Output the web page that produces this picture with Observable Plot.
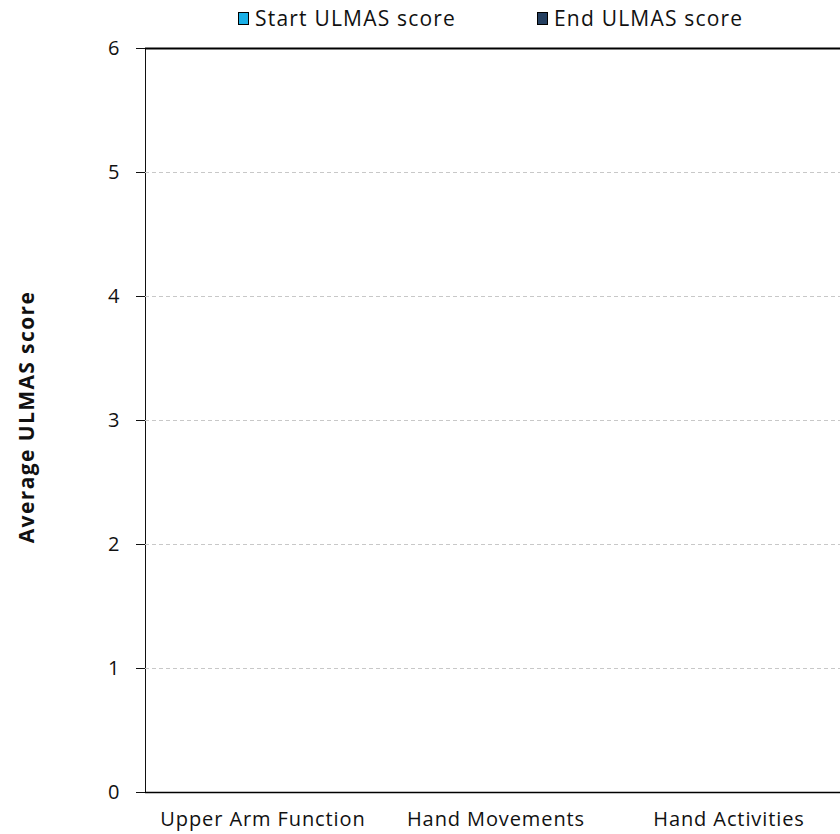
<!DOCTYPE html>
<html>
<head>
<meta charset="utf-8">
<script src="https://cdn.jsdelivr.net/npm/d3@7"></script>
<script src="https://cdn.jsdelivr.net/npm/@observablehq/plot@0.6"></script>
<style>
  html, body { margin: 0; padding: 0; background: #fff; overflow: hidden; }
  #wrap { position: relative; width: 840px; height: 834px; overflow: hidden; font-family: "Open Sans", Lato, sans-serif; }
  #chart svg { max-width: none !important; }
  #legend { position: absolute; top: 3px; left: 0; width: 840px; height: 30px; font-size: 21px; letter-spacing: 1.2px; color: #111; }
  .item { position: absolute; top: 0; display: flex; align-items: center; height: 30px; }
  .sw { width: 9px; height: 11px; border: 1px solid #000; margin-right: 6px; }
  #yt { position: absolute; left: 26px; top: 417px; transform: translate(-50%, -50%) rotate(-90deg); font-family: "Open Sans", sans-serif; font-weight: bold; font-size: 21px; letter-spacing: 1.4px; white-space: nowrap; color: #111; }
  #chart g[aria-label='x-axis tick label'] text { letter-spacing: 0.9px; }
</style>
</head>
<body>
<div id="wrap">
  <div id="chart"></div>
  <div id="legend"></div>
  <div id="yt"></div>
</div>
<script>
const categories = ["Upper Arm Function", "Hand Movements", "Hand Activities"];
const seriesNames = ["Start ULMAS score", "End ULMAS score"];
const seriesColors = ["#1aafe6", "#243f60"];
// No bars are visible in the reference: values unknown / not shown
const startScores = [null, null, null];
const endScores = [null, null, null];
const yTicks = [0, 1, 2, 3, 4, 5, 6];
const gridTicks = [1, 2, 3, 4, 5];
const yTitle = "Average ULMAS score";

const startData = categories.map((c, i) => ({category: c, value: startScores[i]})).filter(d => d.value != null);
const endData = categories.map((c, i) => ({category: c, value: endScores[i]})).filter(d => d.value != null);

const chart = Plot.plot({
  width: 850,
  height: 834,
  marginTop: 48,
  marginBottom: 42,
  marginLeft: 145,
  marginRight: 5,
  style: {fontFamily: "'Open Sans', Lato, sans-serif", fontSize: "20px", color: "#111", background: "#fff", maxWidth: "none"},
  x: {domain: categories, padding: 0, label: null, tickSize: 0, tickPadding: 19},
  y: {domain: [0, 6], ticks: yTicks, label: null, tickSize: 9, tickPadding: 17, line: true, tickFormat: d => d},
  marks: [
    Plot.ruleY(gridTicks, {stroke: "#c8c8c8", strokeDasharray: "4,3"}),
    Plot.barY(startData, {x: "category", y: "value", fill: seriesColors[0], insetLeft: 30, insetRight: 118}),
    Plot.barY(endData, {x: "category", y: "value", fill: seriesColors[1], insetLeft: 118, insetRight: 30}),
    Plot.ruleY([0], {stroke: "#000", strokeWidth: 1.5}),
    Plot.ruleY([6], {stroke: "#000", strokeWidth: 2})
  ]
});
document.getElementById("chart").appendChild(chart);
d3.select(chart).selectAll("[aria-label='y-axis'] path, [aria-label='y-axis'] line").attr("stroke", "#000");
d3.select(chart).selectAll("g[aria-label='x-axis tick label'] text").style("letter-spacing", "0.9px");

const legend = document.getElementById("legend");
const lx = [238, 537];
seriesNames.forEach((name, i) => {
  const it = document.createElement("div");
  it.className = "item";
  it.style.left = lx[i] + "px";
  it.innerHTML = `<span class="sw" style="background:${seriesColors[i]}"></span><span>${name}</span>`;
  legend.appendChild(it);
});
document.getElementById("yt").textContent = yTitle;
</script>
</body>
</html>
